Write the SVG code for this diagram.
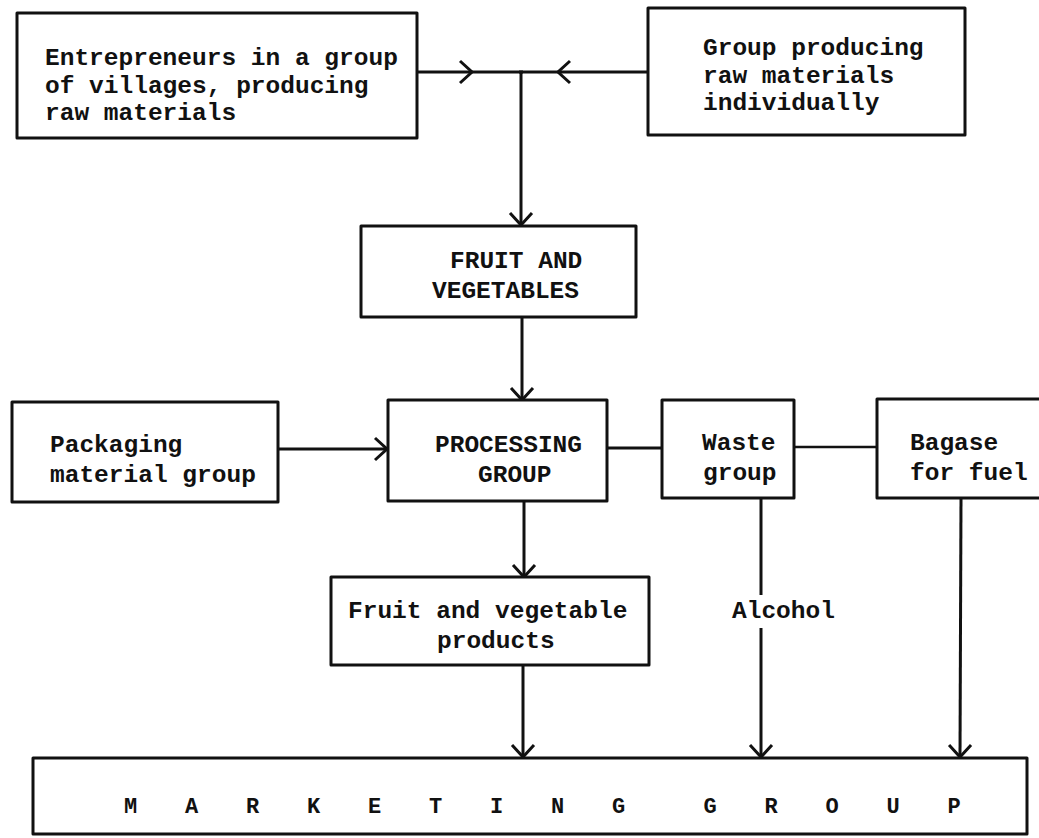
<svg xmlns="http://www.w3.org/2000/svg" width="1039" height="838" viewBox="0 0 1039 838">
<style>
.box{fill:#fff;stroke:#111;stroke-width:3;stroke-linejoin:round}
.lbl{font-family:"Liberation Mono","DejaVu Sans Mono",monospace;font-size:24.5px;fill:#111;font-weight:bold}
.mk{font-family:"Liberation Mono","DejaVu Sans Mono",monospace;font-size:22px;fill:#111;font-weight:bold;letter-spacing:17.3px}
.ln{fill:none;stroke:#111;stroke-width:3}
.arr{marker-end:url(#chev)}
</style>
<defs>
<marker id="chev" markerUnits="userSpaceOnUse" markerWidth="16" markerHeight="26" refX="13" refY="11" orient="auto" overflow="visible">
<path d="M1,0 L13,11 L1,22" fill="none" stroke="#111" stroke-width="3" stroke-linejoin="miter"/>
</marker>
</defs>
<rect width="1039" height="838" fill="#fff"/>
<g id="connectors">
<line class="ln arr" x1="417" y1="72" x2="472" y2="72"/>
<line class="ln" x1="470" y1="72" x2="523" y2="72"/>
<line class="ln arr" x1="648" y1="72" x2="558" y2="72"/>
<line class="ln" x1="560" y1="72" x2="519" y2="72"/>
<line class="ln arr" x1="521" y1="72" x2="521" y2="225"/>
<line class="ln arr" x1="522" y1="317" x2="522" y2="400"/>
<line class="ln arr" x1="278" y1="449" x2="387" y2="449"/>
<line class="ln" x1="607" y1="448" x2="662" y2="448"/>
<line class="ln" x1="794" y1="447" x2="877" y2="447" style="stroke-width:2.5"/>
<line class="ln arr" x1="524" y1="500" x2="524" y2="577"/>
<line class="ln arr" x1="523" y1="665" x2="523" y2="757"/>
<line class="ln" x1="761" y1="498" x2="761" y2="595"/>
<line class="ln arr" x1="761" y1="628" x2="761" y2="757"/>
<line class="ln arr" x1="961" y1="498" x2="960" y2="757"/>
<text class="lbl" x="732" y="618">Alcohol</text>
</g>
<g id="entrepreneurs">
<rect class="box" x="17" y="13" width="400" height="125"/>
<text class="lbl" x="45" y="65">Entrepreneurs in a group</text>
<text class="lbl" x="45" y="93">of villages, producing</text>
<text class="lbl" x="45" y="120">raw materials</text>
</g>
<g id="group-individual">
<rect class="box" x="648" y="8" width="317" height="127"/>
<text class="lbl" x="703" y="55">Group producing</text>
<text class="lbl" x="703" y="83">raw materials</text>
<text class="lbl" x="703" y="110">individually</text>
</g>
<g id="fruit-veg">
<rect class="box" x="361" y="226" width="275" height="91"/>
<text class="lbl" x="450" y="268">FRUIT AND</text>
<text class="lbl" x="432" y="298">VEGETABLES</text>
</g>
<g id="packaging">
<rect class="box" x="12" y="402" width="266" height="100"/>
<text class="lbl" x="50" y="452">Packaging</text>
<text class="lbl" x="50" y="482">material group</text>
</g>
<g id="processing">
<rect class="box" x="388" y="400" width="219" height="101"/>
<text class="lbl" x="435" y="452">PROCESSING</text>
<text class="lbl" x="478" y="482">GROUP</text>
</g>
<g id="waste">
<rect class="box" x="662" y="400" width="132" height="98"/>
<text class="lbl" x="702" y="450">Waste</text>
<text class="lbl" x="703" y="480">group</text>
</g>
<g id="bagase">
<rect class="box" x="877" y="399" width="200" height="99"/>
<text class="lbl" x="910" y="450">Bagase</text>
<text class="lbl" x="910" y="480">for fuel</text>
</g>
<g id="fv-products">
<rect class="box" x="331" y="577" width="318" height="88"/>
<text class="lbl" x="348" y="618">Fruit and vegetable</text>
<text class="lbl" x="437" y="648">products</text>
</g>
<g id="marketing">
<rect class="box" x="33" y="758" width="994" height="76"/>
<text class="mk" x="124" y="813" xml:space="preserve">M A R K E T I N G  G R O U P</text>
</g>
</svg>
